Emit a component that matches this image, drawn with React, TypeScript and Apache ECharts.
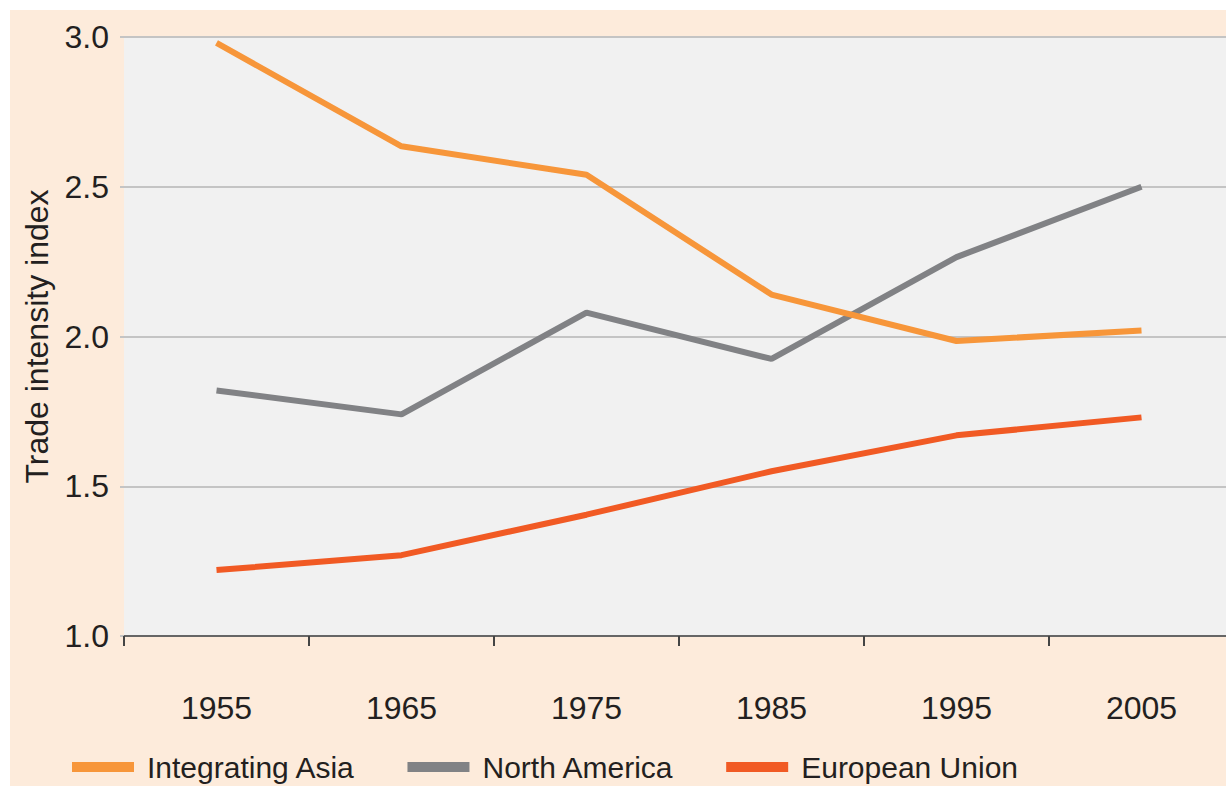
import React, { useEffect, useRef } from "react";
import * as echarts from "echarts";

const years = ["1955", "1965", "1975", "1985", "1995", "2005"];
const integratingAsia = [2.98, 2.635, 2.54, 2.14, 1.985, 2.02];
const northAmerica = [1.82, 1.74, 2.08, 1.925, 2.265, 2.5];
const europeanUnion = [1.22, 1.27, 1.405, 1.55, 1.67, 1.73];
const seriesNames = ["Integrating Asia", "North America", "European Union"];
const seriesColors = ["#f7963a", "#818285", "#f15a24"];

const FONT = "'Liberation Sans', Arial, sans-serif";
const TEXT = "#231f20";

export default function App() {
  const ref = useRef<HTMLDivElement>(null);
  useEffect(() => {
    if (!ref.current) return;
    const chart = echarts.init(ref.current, undefined, { renderer: "svg" });
    const data = [integratingAsia, northAmerica, europeanUnion];
    chart.setOption({
      animation: false,
      backgroundColor: "#fdebdb",
      textStyle: { fontFamily: FONT },
      graphic: [
        { type: "rect", shape: { x: 0, y: 0, width: 1250, height: 10 }, style: { fill: "#ffffff" } },
        { type: "rect", shape: { x: 0, y: 0, width: 10, height: 786 }, style: { fill: "#ffffff" } },
      ],
      grid: {
        show: true,
        backgroundColor: "#f1f1f1",
        borderWidth: 0,
        left: 124,
        top: 37,
        width: 1110,
        bottom: 150,
        containLabel: false,
      },
      legend: {
        left: 67,
        top: 747,
        icon: "rect",
        itemWidth: 62,
        itemHeight: 10,
        itemGap: 52,
        textStyle: { fontSize: 30, color: TEXT, fontFamily: FONT, padding: [0, 0, 0, 8] },
        data: seriesNames,
      },
      xAxis: {
        type: "category",
        data: years,
        boundaryGap: true,
        axisLine: { show: true, lineStyle: { color: "#666666", width: 2 } },
        axisTick: { show: true, length: 10, lineStyle: { color: "#444444", width: 2 } },
        axisLabel: { fontSize: 32, color: TEXT, margin: 56, fontFamily: FONT },
        splitLine: { show: false },
      },
      yAxis: {
        type: "value",
        min: 1,
        max: 3,
        interval: 0.5,
        name: "Trade intensity index",
        nameLocation: "middle",
        nameGap: 71,
        nameTextStyle: { fontSize: 32, color: TEXT, fontFamily: FONT },
        axisLine: { show: false },
        axisTick: { show: true, length: 4, lineStyle: { color: "#c4c4c4", width: 2 } },
        axisLabel: {
          fontSize: 32,
          color: TEXT,
          margin: 15,
          fontFamily: FONT,
          formatter: (v: number) => v.toFixed(1),
        },
        splitLine: { show: true, lineStyle: { color: "#c4c4c4", width: 2 } },
      },
      series: seriesNames.map((name, i) => ({
        name,
        type: "line",
        data: data[i],
        symbol: "none",
        showSymbol: false,
        color: seriesColors[i],
        lineStyle: { color: seriesColors[i], width: 6 },
        itemStyle: { color: seriesColors[i] },
        z: 3 - i,
      })),
    });
    return () => chart.dispose();
  }, []);
  return (
    <div
      style={{
        position: "absolute",
        left: 0,
        top: 0,
        width: 1226,
        height: 786,
        overflow: "hidden",
      }}
    >
      <div ref={ref} style={{ width: 1240, height: 786 }} />
    </div>
  );
}
